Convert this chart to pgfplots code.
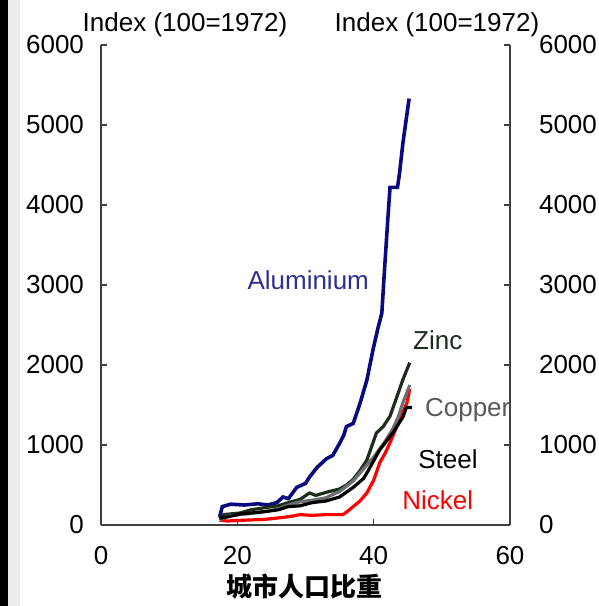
\documentclass[border=0pt]{standalone}
\usepackage{pgfplots}
\pgfplotsset{compat=1.18}
\usepackage{fontspec}
\setmainfont{Liberation Sans}
\newfontfamily\cjk{Noto Sans CJK SC}
\definecolor{alu}{HTML}{0A0A80}
\definecolor{zinc}{HTML}{1A2E1A}
\definecolor{copper}{HTML}{6E6E6E}
\definecolor{nickel}{HTML}{FF0000}
\definecolor{axc}{HTML}{404040}
\begin{document}
\begin{tikzpicture}
\fontsize{13}{15}\selectfont
\useasboundingbox (-50.5pt,-40.5pt) rectangle (249pt,262.5pt);
\fill[black] (-50.5pt,-40.5pt) rectangle (-46.5pt,262.5pt);
\fill[black!8] (-46.5pt,-40.5pt) rectangle (-40.5pt,262.5pt);
\pgfplotsset{every axis/.append style={
  scale only axis, width=204.5pt, height=240pt,
  xmin=0, xmax=60, ymin=0, ymax=6000,
  font=\fontsize{13}{15}\selectfont,
  /pgf/number format/assume math mode=true,
  scaled y ticks=false,
  yticklabel style={/pgf/number format/1000 sep={}},
  ytick={0,1000,...,6000},
  tick align=inside, major tick length=3pt,
  axis line style={-, axc, line width=0.8pt},
  tick style={axc, line width=0.8pt},
}}
\begin{axis}[at={(0,0)}, anchor=south west,
  axis x line*=bottom, axis y line*=left,
  xtick={0,20,40,60},
  xticklabel style={yshift=-6pt},
  yticklabel style={xshift=-4pt},
  clip=false]
\addplot[alu, line width=1.8pt] coordinates {
(17.4,100)(17.8,230)(19,260)(21,250)(23,265)(24.5,250)(25.8,280)(26.7,350)(27.5,330)
(28.7,470)(30,520)(30.6,600)(31.7,720)(33.1,830)(34,870)(35,1020)(35.6,1120)(36,1230)
(37,1270)(38,1520)(39,1810)(39.9,2190)(40.6,2450)(41.2,2650)(41.6,3200)(42.1,3850)
(42.4,4220)(43.5,4220)(43.8,4400)(44.3,4780)(45.2,5330)};
\addplot[nickel, line width=1.6pt] coordinates {
(17.4,60)(18.5,50)(21,60)(24,70)(26.7,95)(28,110)(29.2,130)(31,120)(33,130)(35.5,130)
(36.3,180)(37,230)(38,300)(39,400)(40,560)(40.9,780)(41.7,900)(42.4,1030)(43.8,1310)
(44.9,1530)(45.3,1700)};
\addplot[zinc, line width=1.6pt] coordinates {
(17.4,80)(18,130)(20.4,150)(22,190)(24.3,220)(26,240)(27.5,280)(29.2,320)(30.6,400)
(31.5,370)(33.1,410)(35,450)(36,500)(37,570)(38,680)(39,810)(40.4,1150)(41.4,1230)
(42.4,1360)(43.4,1600)(44.3,1820)(45.3,2030)};
\addplot[copper, line width=1.6pt] coordinates {
(17.4,60)(18.5,110)(20.5,130)(22.5,150)(24.3,170)(26,200)(27.5,250)(29.2,290)(31,310)
(33,340)(35,420)(37,550)(38.5,700)(40,850)(41.5,1020)(42.8,1200)(43.6,1350)(44.3,1530)
(45.3,1750)};
\addplot[black, line width=1.6pt] coordinates {
(17.4,85)(18.5,100)(20.5,140)(22,150)(24.3,170)(26,190)(27.5,230)(29.2,240)(31,280)
(33,300)(35,350)(37,470)(38.5,580)(39,650)(40.9,940)(42.8,1150)(44.3,1350)(44.8,1470)
(45.6,1470)};
\node[alu!85!white] at (axis cs:30.4,3060) {Aluminium};
\node[zinc] at (axis cs:49.4,2310) {Zinc};
\node[black!65] at (axis cs:53.8,1440) {Copper};
\node[black] at (axis cs:50.9,825) {Steel};
\node[nickel] at (axis cs:49.4,310) {Nickel};
\end{axis}
\begin{axis}[at={(0,0)}, anchor=south west,
  axis x line=none, axis y line*=right,
  yticklabel style={xshift=10pt}]
\end{axis}
\node at (42pt,250pt) {Index (100=1972)};
\node at (168pt,250pt) {Index (100=1972)};
\node[font=\cjk\bfseries\fontsize{13}{15}\selectfont] at (102pt,-31pt) {城市人口比重};
\end{tikzpicture}
\end{document}
